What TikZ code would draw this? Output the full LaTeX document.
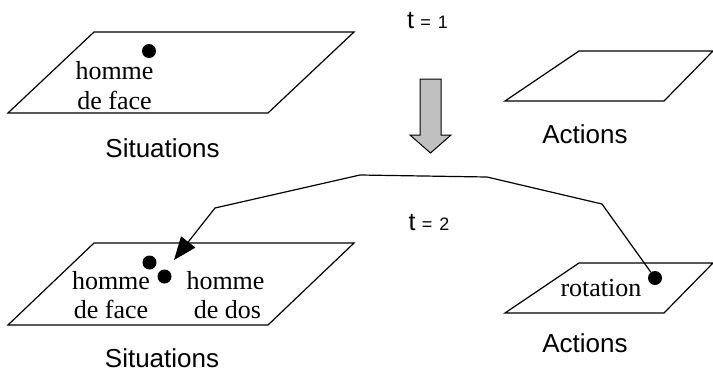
\documentclass[tikz,border=0pt]{standalone}
\usepackage{fontspec}
\setmainfont{Liberation Serif}
\newfontfamily\labelfont{Liberation Sans}
\usetikzlibrary{arrows.meta}
\definecolor{arrowgray}{RGB}{192,192,192}
\tikzset{
  plane/.style={draw=black, line width=1.2pt, line join=miter},
  serif/.style={inner sep=0pt, anchor=base, font=\fontsize{26}{30}\selectfont},
  sanslabel/.style={inner sep=0pt, anchor=base, font=\labelfont\fontsize{26}{30}\selectfont},
  timelabel/.style={inner sep=0pt, anchor=base west, font=\labelfont},
  blackdot/.style={circle, fill=black, inner sep=0pt, minimum size=14pt},
  link/.style={draw=black, line width=1.2pt, line join=miter},
  bigarrow/.style={draw=black, line width=1pt, fill=arrowgray}
}
\newcommand{\timetext}[1]{{\fontsize{25}{28}\selectfont t}\hspace{6.3pt}{\fontsize{18}{20}\selectfont =\hspace{7pt}#1}}
\begin{document}
\begin{tikzpicture}[x=1pt,y=-1pt]
\useasboundingbox (0,0) rectangle (713,373);
% planes
\draw[plane] (8,113) -- (94,32) -- (354,32) -- (268,113) -- cycle;
\draw[plane] (505,101) -- (579,51) -- (713,51) -- (664,101) -- cycle;
\draw[plane] (8,325) -- (94,243) -- (354,243) -- (268,325) -- cycle;
\draw[plane] (505,313) -- (579,263) -- (713,263) -- (664,313) -- cycle;
% time labels
\node[timelabel] (t1) at (407,28) {\timetext{1}};
\node[timelabel] (t2) at (408.5,230.5) {\timetext{2}};
% big arrow
\draw[bigarrow] (420,79) -- (441,79) -- (441,135) -- (451,135) -- (430.5,153) -- (410,135) -- (420,135) -- cycle;
% top situation
\node[blackdot] (d1) at (149,51) {};
\node[serif] (h1a) at (114.5,79) {homme};
\node[serif] (h1b) at (114.5,109) {de face};
\node[sanslabel] (s1) at (162.5,157.5) {Situations};
\node[sanslabel] (a1) at (585,143.5) {Actions};
% bottom situation
\node[blackdot] (d2) at (149.5,262.5) {};
\node[blackdot] (d3) at (164.5,276.5) {};
\node[serif] (h2a) at (111,289.5) {homme};
\node[serif] (h2b) at (111,318) {de face};
\node[serif] (h3a) at (225.5,289.5) {homme};
\node[serif] (h3b) at (227.5,318) {de dos};
\node[sanslabel] (s2) at (162,367) {Situations};
% bottom actions
\node[blackdot] (dr) at (655,278) {};
\node[serif] (rot) at (601,296.5) {rotation};
\node[sanslabel] (a2) at (585,352) {Actions};
% connector
\coordinate (w1) at (602,204);
\coordinate (w2) at (487,177);
\coordinate (w3) at (360,175);
\coordinate (w4) at (215,208);
\coordinate (tip) at (174,260);
\draw[link, -{Triangle[length=23pt,width=18pt]}] (dr) -- (w1) -- (w2) -- (w3) -- (w4) -- (tip);
\end{tikzpicture}
\end{document}
